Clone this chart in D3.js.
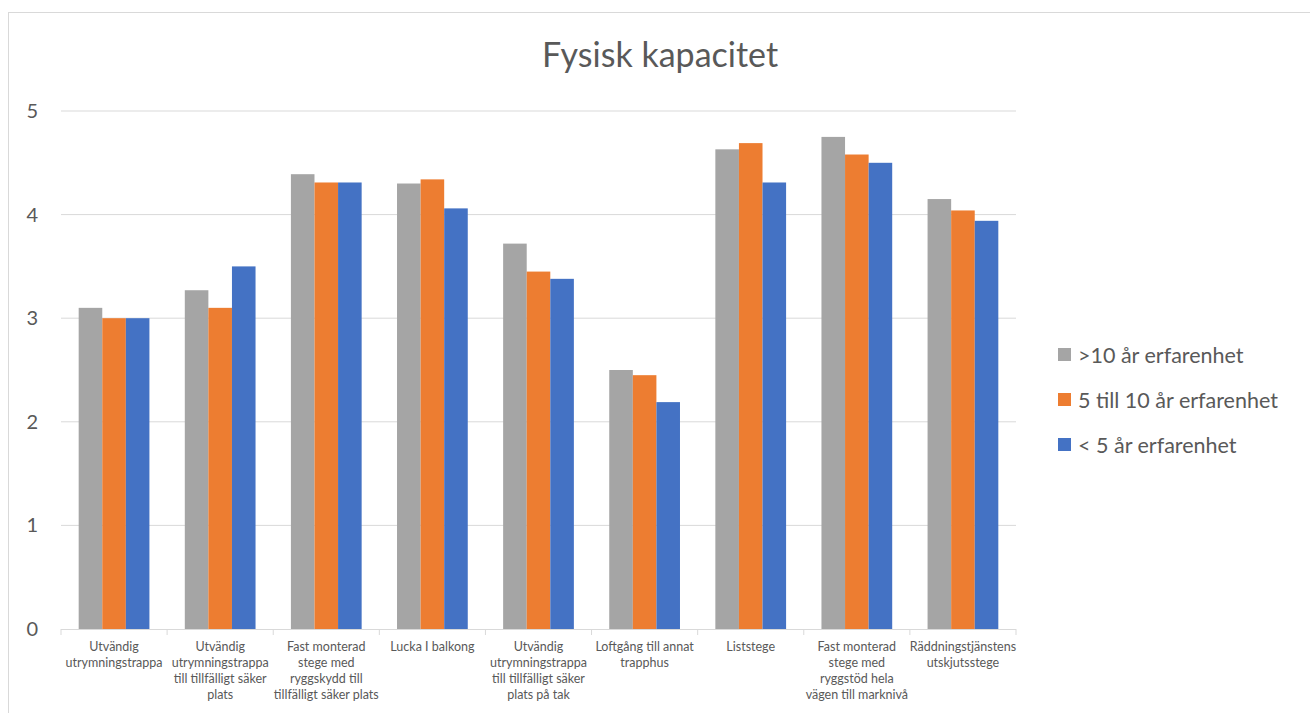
<!DOCTYPE html>
<html lang="sv">
<head>
<meta charset="UTF-8">
<title>Fysisk kapacitet</title>
<style>
    body {
        margin: 0;
        padding: 0;
        background-color: #fff;
        font-family: Lato, "Open Sans", sans-serif;
    }
    #chart text {
        fill: #595959;
    }
</style>
</head>
<body>
<svg id="chart" width="1310" height="713"></svg>

<script src="https://d3js.org/d3.v7.min.js"></script>
<script>
    // data
    var categories = [
        "Utvändig\nutrymningstrappa",
        "Utvändig\nutrymningstrappa\ntill tillfälligt säker\nplats",
        "Fast monterad\nstege med\nryggskydd till\ntillfälligt säker plats",
        "Lucka I balkong",
        "Utvändig\nutrymningstrappa\ntill tillfälligt säker\nplats på tak",
        "Loftgång till annat\ntrapphus",
        "Liststege",
        "Fast monterad\nstege med\nryggstöd hela\nvägen till marknivå",
        "Räddningstjänstens\nutskjutsstege"
    ];
    var seriesNames = [">10 år erfarenhet", "5 till 10 år erfarenhet", "< 5 år erfarenhet"];
    var seriesColors = ["#a5a5a5", "#ed7d31", "#4472c4"];
    var over10 = [3.10, 3.27, 4.39, 4.30, 3.72, 2.50, 4.63, 4.75, 4.15];
    var from5to10 = [3.00, 3.10, 4.31, 4.34, 3.45, 2.45, 4.69, 4.58, 4.04];
    var under5 = [3.00, 3.50, 4.31, 4.06, 3.38, 2.19, 4.31, 4.50, 3.94];
    var yTicks = [0, 1, 2, 3, 4, 5];

    var series = [over10, from5to10, under5];

    const svg = d3.select("#chart");

    // ram runt diagrammet
    svg.append("rect")
        .attr("x", 8.5).attr("y", 12.5)
        .attr("width", 1320).attr("height", 720)
        .attr("fill", "none")
        .attr("stroke", "#d9d9d9");

    // scales: varje grupp = 3 staplar + 1.5 stapel mellanrum
    const band = d3.scaleBand()
        .domain(d3.range(categories.length))
        .range([61, 1016]);
    const x1 = d3.scaleBand()
        .domain(d3.range(series.length))
        .range([0, band.bandwidth() * 3 / 4.5]);

    const y = d3.scaleLinear()
        .domain([0, 5])
        .range([629, 111]);

    // gridlines
    svg.append("g")
        .selectAll("line")
        .data(yTicks.slice(1))
        .join("line")
        .attr("x1", 61).attr("x2", 1016)
        .attr("y1", d => y(d)).attr("y2", d => y(d))
        .attr("stroke", "#d9d9d9")
        .attr("stroke-width", 1);

    // y labels
    svg.append("g")
        .selectAll("text")
        .data(yTicks)
        .join("text")
        .attr("x", 38)
        .attr("y", d => y(d))
        .attr("dy", "0.35em")
        .attr("text-anchor", "end")
        .style("font-size", "20px")
        .text(d => d);

    // bars
    const groups = svg.append("g")
        .selectAll("g")
        .data(categories.map((c, i) => i))
        .join("g")
        .attr("transform", i => "translate(" + (band(i) + band.bandwidth() * 0.75 / 4.5) + ",0)");

    groups.selectAll("rect")
        .data(i => series.map((s, k) => ({ k: k, v: s[i] })))
        .join("rect")
        .attr("x", d => x1(d.k))
        .attr("y", d => y(d.v))
        .attr("width", x1.bandwidth())
        .attr("height", d => y(0) - y(d.v))
        .attr("fill", d => seriesColors[d.k]);

    // x axis
    const xAxis = svg.append("g");
    xAxis.append("line")
        .attr("x1", 61).attr("x2", 1016)
        .attr("y1", 629.5).attr("y2", 629.5)
        .attr("stroke", "#d9d9d9");
    xAxis.selectAll(".tick")
        .data(d3.range(categories.length + 1))
        .join("line")
        .attr("class", "tick")
        .attr("x1", i => i < categories.length ? band(i) : band.range()[1])
        .attr("x2", i => i < categories.length ? band(i) : band.range()[1])
        .attr("y1", 629).attr("y2", 635)
        .attr("stroke", "#d9d9d9");

    // x labels
    xAxis.selectAll(".lbl")
        .data(categories)
        .join("text")
        .attr("class", "lbl")
        .attr("text-anchor", "middle")
        .style("font-size", "12.5px")
        .each(function(d, i) {
            var t = d3.select(this);
            d.split("\n").forEach(function(line, j) {
                t.append("tspan")
                    .attr("x", band(i) + band.bandwidth() / 2)
                    .attr("y", 651 + j * 16)
                    .text(line);
            });
        });

    // title
    svg.append("text")
        .attr("x", 660)
        .attr("y", 67)
        .attr("text-anchor", "middle")
        .style("font-size", "34px")
        .text("Fysisk kapacitet");

    // legend
    const legend = svg.append("g")
        .selectAll("g")
        .data(seriesNames)
        .join("g")
        .attr("transform", (d, i) => "translate(1058," + (355 + i * 45) + ")");
    legend.append("rect")
        .attr("x", 0).attr("y", -7)
        .attr("width", 13).attr("height", 13)
        .attr("fill", (d, i) => seriesColors[i]);
    legend.append("text")
        .attr("x", 20)
        .attr("dy", "0.35em")
        .style("font-size", "21.5px")
        .text(d => d);
</script>
</body>
</html>
